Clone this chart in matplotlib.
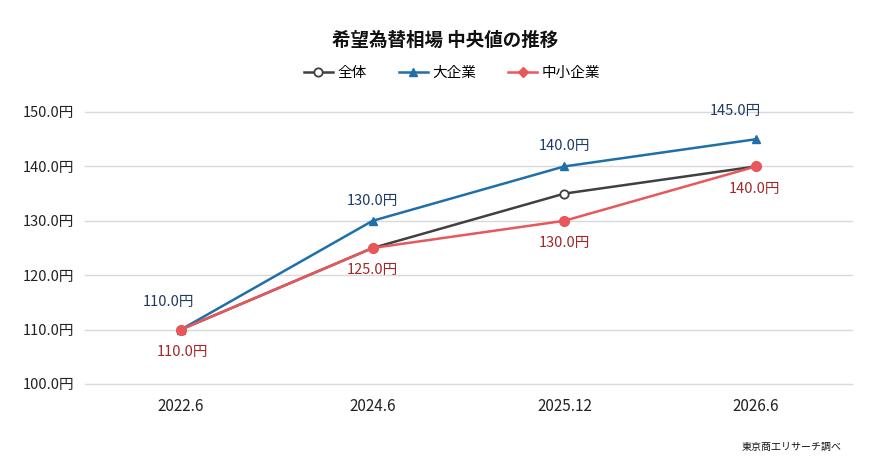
import matplotlib
matplotlib.use("Agg")
import matplotlib.pyplot as plt
from matplotlib.lines import Line2D

plt.rcParams['font.family'] = ['Noto Sans CJK JP', 'DejaVu Sans']

categories = ["2022.6", "2024.6", "2025.12", "2026.6"]
overall = [110, 125, 135, 140]
large = [110, 130, 140, 145]
sme = [110, 125, 130, 140]
yticks = [100, 110, 120, 130, 140, 150]

c_overall = "#404040"
c_large = "#1f6fa8"
c_sme = "#e8585a"
c_large_lbl = "#1f3a66"
c_sme_lbl = "#a02828"

# label offsets in points (layout only)
large_offsets = [(-9, 20), (0, 14), (0, 15), (-15, 20)]
sme_offsets = [(1, -16), (0, -16), (0, -16), (-1, -16)]

fig = plt.figure(figsize=(8.9, 4.67), dpi=100)
ax = fig.add_axes([85/890, 1-384/467, 767/890, 272/467])

x = list(range(len(categories)))
ax.plot(x, overall, color=c_overall, lw=1.8, marker="o", ms=6,
        markerfacecolor="white", markeredgecolor=c_overall, markeredgewidth=1.3, zorder=3)
ax.plot(x, large, color=c_large, lw=1.8, marker="^", ms=6,
        markerfacecolor=c_large, markeredgecolor=c_large, zorder=4)
ax.plot(x, sme, color=c_sme, lw=1.8, marker="o", ms=7,
        markerfacecolor=c_sme, markeredgecolor=c_sme, zorder=5)

for xi, v, off in zip(x, large, large_offsets):
    ax.annotate(f"{v:.1f}円", (xi, v), xytext=off, textcoords="offset points",
                ha="center", va="center", fontsize=10.5, color=c_large_lbl)
for xi, v, off in zip(x, sme, sme_offsets):
    ax.annotate(f"{v:.1f}円", (xi, v), xytext=off, textcoords="offset points",
                ha="center", va="center", fontsize=10.5, color=c_sme_lbl)

ax.set_xlim(-0.5, len(categories) - 0.5)
ax.set_ylim(100, 150)
ax.set_yticks(yticks)
ax.set_yticklabels([f"{t:.1f}円" for t in yticks], fontsize=10.5, color="#222222")
ax.set_xticks(x)
ax.set_xticklabels(categories, fontsize=11, color="#222222")
ax.tick_params(axis="both", length=0)
ax.tick_params(axis="y", pad=8)
ax.tick_params(axis="x", pad=10)
ax.grid(axis="y", color="#d9d9d9", lw=1)
for gl in ax.get_ygridlines():
    gl.set_clip_on(False)
ax.set_axisbelow(True)
for s in ax.spines.values():
    s.set_visible(False)

fig.text(445/890, 1-40/467, "希望為替相場 中央値の推移", ha="center", va="center",
         fontsize=13.3, fontweight="bold", color="#111111")

handles = [
    Line2D([], [], color=c_overall, lw=1.8, marker="o", ms=6, markerfacecolor="white",
           markeredgecolor=c_overall, markeredgewidth=1.3),
    Line2D([], [], color=c_large, lw=1.8, marker="^", ms=6, markerfacecolor=c_large,
           markeredgecolor=c_large),
    Line2D([], [], color=c_sme, lw=1.8, marker="D", ms=5.5, markerfacecolor=c_sme,
           markeredgecolor=c_sme),
]
fig.legend(handles, ["全体", "大企業", "中小企業"], loc="center", ncol=3,
           bbox_to_anchor=(452/890, 1-73/467), frameon=False, fontsize=10.5,
           handlelength=2.0, handletextpad=0.3, columnspacing=2.2)

fig.text(842/890, 1-447/467, "東京商工リサーチ調べ", ha="right", va="center",
         fontsize=7.2, color="#111111")

fig.savefig("out.png", dpi=100, facecolor="white")
